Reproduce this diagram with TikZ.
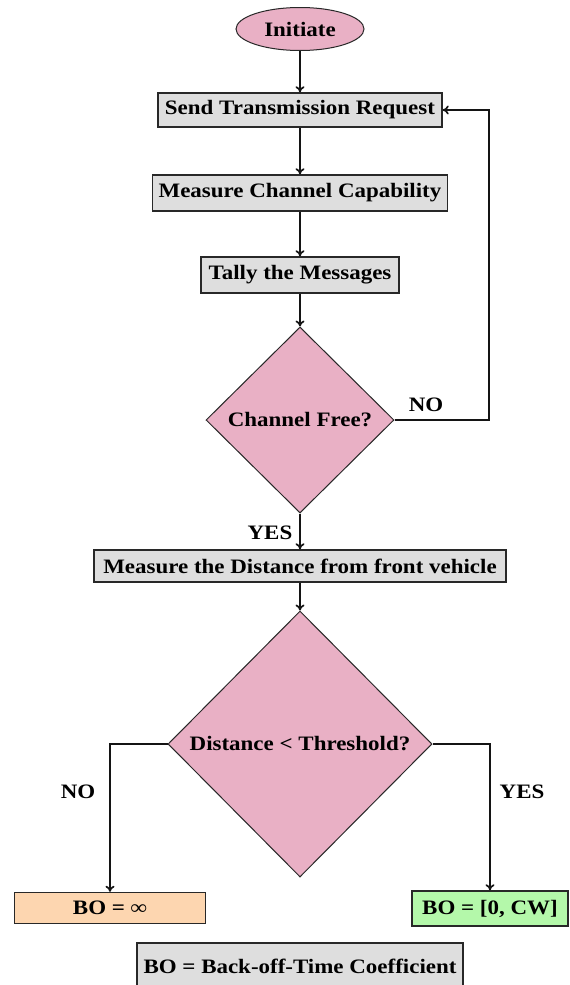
\documentclass[tikz,border=0pt]{standalone}
\usepackage{fontspec}
\setmainfont{Liberation Serif}[FakeStretch=1.12]
\usetikzlibrary{shapes.geometric,arrows.meta}
\definecolor{pinkfill}{RGB}{233,176,197}
\definecolor{grayfill}{RGB}{222,222,222}
\definecolor{orangefill}{RGB}{253,214,176}
\definecolor{greenfill}{RGB}{180,248,170}
\definecolor{edge}{RGB}{40,40,40}
\begin{document}
\begin{tikzpicture}[x=1pt,y=-1pt,
  every node/.style={font=\fontsize{20.5}{24}\selectfont\bfseries, text=black},
  procbox/.style={draw=edge, line width=1.5pt, rectangle, inner sep=0pt, fill=grayfill},
  decbox/.style={draw=edge, line width=1pt, diamond, inner sep=0pt, fill=pinkfill},
  lbl/.style={inner sep=0pt},
  arr/.style={draw=black!92, line width=1.7pt, -{To[length=6pt,width=9pt]}}]
\useasboundingbox (0,0) rectangle (570,985);
\fill[white] (0,0) rectangle (570,985);

\node[draw=edge, line width=1pt, ellipse, fill=pinkfill, inner sep=0pt,
  minimum width=128pt, minimum height=43pt] (init) at (300,29) {Initiate};
\node[procbox, minimum width=284pt, minimum height=34pt] (b1) at (300,110) {Send Transmission Request};
\node[procbox, minimum width=295pt, minimum height=36pt] (b2) at (300,193) {Measure Channel Capability};
\node[procbox, minimum width=198pt, minimum height=36pt] (b3) at (300,275) {Tally the Messages};
\node[decbox, minimum width=188pt, minimum height=186pt] (d1) at (300,420) {Channel Free?};
\node[procbox, minimum width=412pt, minimum height=32pt] (b4) at (300,566) {Measure the Distance from front vehicle};
\node[decbox, minimum width=264pt, minimum height=266pt] (d2) at (300,744) {Distance < Threshold?};
\node[procbox, fill=orangefill, minimum width=191pt, minimum height=31pt] (bo1) at (110,908) {BO = ∞};
\node[procbox, fill=greenfill, minimum width=156pt, minimum height=35pt] (bo2) at (490,908.5) {BO = [0, CW]};
\node[procbox, minimum width=326pt, minimum height=46pt] (legend) at (300,966) {BO = Back-off-Time Coefficient};

\node[lbl] (no1) at (426,405) {NO};
\node[lbl] (yes1) at (270,533) {YES};
\node[lbl] (no2) at (78,792) {NO};
\node[lbl] (yes2) at (522,792) {YES};

\coordinate (loopc) at (489,420);

\draw[arr] (init) -- (b1);
\draw[arr] (b1) -- (b2);
\draw[arr] (b2) -- (b3);
\draw[arr] (b3) -- (d1);
\draw[arr] (d1.east) -- (loopc) |- (b1.east);
\draw[arr] (d1) -- (b4);
\draw[arr] (b4) -- (d2);
\draw[arr] (d2.west) -| (bo1.north);
\draw[arr] (d2.east) -| (bo2.north);
\end{tikzpicture}
\end{document}
